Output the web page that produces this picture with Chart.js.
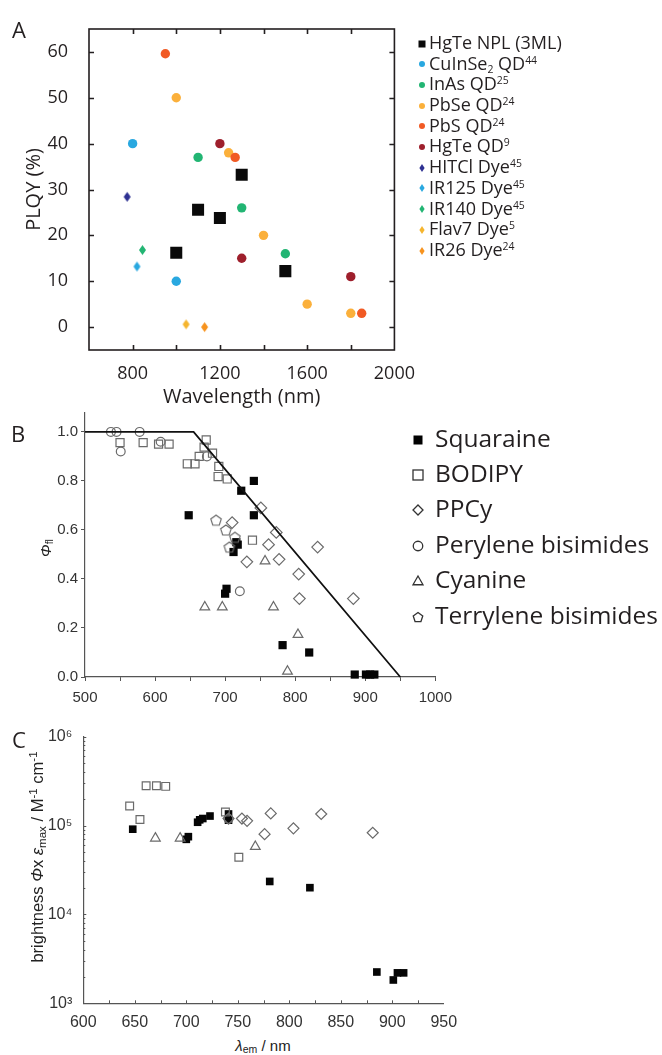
<!DOCTYPE html>
<html>
<head>
<meta charset="utf-8">
<script src="https://cdn.jsdelivr.net/npm/chart.js@4.4.0/dist/chart.umd.min.js"></script>
<style>
body { margin:0; background:#fff; width:662px; height:1055px; position:relative; overflow:hidden; font-family:'Open Sans', sans-serif; color:#231f20; }
canvas { position:absolute; left:0; }
.panel { position:absolute; font-size:22px; line-height:1; }
.row { position:absolute; white-space:nowrap; line-height:1; }
.row sup { font-size:0.58em; vertical-align:0.62em; line-height:0; }
.row sub { font-size:0.58em; vertical-align:-0.25em; line-height:0; }
.mk { position:absolute; }
.rot { position:absolute; white-space:nowrap; line-height:1; transform:translate(-50%,-50%) rotate(-90deg); font-family:'Liberation Sans', Arial, sans-serif; color:#222; }
.rot sub, .ax sub { font-size:0.7em; vertical-align:-0.25em; line-height:0; }
.rot sup { font-size:0.7em; vertical-align:0.5em; line-height:0; }
.ax { position:absolute; white-space:nowrap; line-height:1; transform:translate(-50%,-50%); font-family:'Liberation Sans', Arial, sans-serif; color:#222; }
</style>
</head>
<body>
<canvas id="cA" width="420" height="410" style="top:0"></canvas>
<canvas id="cB" width="460" height="310" style="top:400px"></canvas>
<canvas id="cC" width="460" height="310" style="top:720px"></canvas>

<div class="panel" style="left:12px;top:18px">A</div>
<div class="panel" style="left:11px;top:422px">B</div>
<div class="panel" style="left:12px;top:728px">C</div>

<div class="rot" style="left:45px;top:548px;font-size:15px"><i>Φ</i><sub>fl</sub></div>
<div class="rot" style="left:37px;top:857px;font-size:16.5px">brightness <i>Φ</i>x <i>ε</i><sub>max</sub> / M<sup>-1</sup> cm<sup>-1</sup></div>
<div class="ax" style="left:263px;top:1045px;font-size:15px"><i>λ</i><sub>em</sub> / nm</div>

<div id="legA"></div>
<div id="legB"></div>

<script>
// ---- panel A: PLQY vs wavelength ----
const aNplX = [1000, 1100, 1200, 1300, 1500];
const aNplY = [16.2, 25.6, 23.8, 33.2, 12.2];
const aCuInSeX = [800, 1000];
const aCuInSeY = [40, 10];
const aInAsX = [1100, 1300, 1500];
const aInAsY = [37, 26, 16];
const aPbSeX = [1000, 1240, 1400, 1600, 1800];
const aPbSeY = [50, 38, 20, 5, 3];
const aPbSX = [950, 1270, 1850];
const aPbSY = [59.6, 37, 3];
const aHgTeQdX = [1200, 1300, 1800];
const aHgTeQdY = [40, 15, 11];
const aHitciX = [775];
const aHitciY = [28.4];
const aIr125X = [820];
const aIr125Y = [13.2];
const aIr140X = [845];
const aIr140Y = [16.8];
const aFlav7X = [1045];
const aFlav7Y = [0.6];
const aIr26X = [1130];
const aIr26Y = [0];
const aXLabels = [800, 1200, 1600, 2000];
const aXMinor = [800, 1000, 1200, 1400, 1600, 1800];
const aYLabels = [0, 10, 20, 30, 40, 50, 60];

// ---- panel B: fluorescence quantum yield ----
const bSquaraineX = [648, 700, 702, 712, 716, 718, 723, 741, 741, 782, 820, 885, 901, 907, 913];
const bSquaraineY = [0.66, 0.34, 0.36, 0.51, 0.55, 0.54, 0.76, 0.80, 0.66, 0.13, 0.10, 0.01, 0.01, 0.01, 0.01];
const bBodipyX = [550, 583, 605, 620, 646, 657, 663, 670, 673, 682, 691, 690, 703, 739];
const bBodipyY = [0.956, 0.956, 0.95, 0.95, 0.87, 0.87, 0.90, 0.938, 0.967, 0.913, 0.859, 0.818, 0.808, 0.558];
const bPpcyX = [710, 731, 751, 762, 773, 777, 805, 806, 832, 883];
const bPpcyY = [0.63, 0.47, 0.69, 0.54, 0.59, 0.48, 0.42, 0.32, 0.53, 0.32];
const bPeryleneX = [537, 545, 578, 551, 608, 674, 721];
const bPeryleneY = [1.0, 1.0, 1.0, 0.92, 0.96, 0.90, 0.35];
const bCyanineX = [671, 696, 757, 769, 804, 789];
const bCyanineY = [0.285, 0.285, 0.473, 0.285, 0.173, 0.023];
const bTerryleneX = [687, 701, 706, 714];
const bTerryleneY = [0.64, 0.60, 0.53, 0.57];
const bLimitX = [500, 655, 950];
const bLimitY = [1, 1, 0];
const bXTicks = [500, 550, 600, 650, 700, 750, 800, 850, 900, 950, 1000];
const bYTicks = [0, 0.2, 0.4, 0.6, 0.8, 1.0];

// ---- panel C: brightness ----
const cSquaraineX = [648, 700, 702, 711, 713, 716, 723, 741, 741, 781, 820, 885, 901, 905, 911];
const cSquaraineY = [9.1e4, 7.0e4, 7.5e4, 1.09e5, 1.16e5, 1.2e5, 1.28e5, 1.35e5, 1.15e5, 2.35e4, 2.0e4, 2.25e3, 1.83e3, 2.2e3, 2.2e3];
const cBodipyX = [645, 655, 661, 671, 680, 738, 751];
const cBodipyY = [1.66e5, 1.17e5, 2.81e5, 2.81e5, 2.76e5, 1.42e5, 4.4e4];
const cPpcyX = [741, 754, 759, 776, 782, 804, 831, 881];
const cPpcyY = [1.2e5, 1.2e5, 1.13e5, 8.0e4, 1.37e5, 9.3e4, 1.35e5, 8.3e4];
const cPeryleneX = [741];
const cPeryleneY = [1.19e5];
const cCyanineX = [670, 694, 767];
const cCyanineY = [7.2e4, 7.2e4, 5.8e4];
const cXTicks = [600, 650, 700, 750, 800, 850, 900, 950];
const cXMinor = [625, 650, 675, 700, 725, 750, 775, 800, 825, 850, 875, 900, 925];
const cYTicks = [1e3, 1e4, 1e5, 1e6];
const cYMinor = [2e3, 3e3, 4e3, 5e3, 6e3, 7e3, 8e3, 9e3, 2e4, 3e4, 4e4, 5e4, 6e4, 7e4, 8e4, 9e4,
                 2e5, 3e5, 4e5, 5e5, 6e5, 7e5, 8e5, 9e5];
const supDigits = {3: '³', 4: '⁴', 5: '⁵', 6: '⁶'};

function pts(xs, ys) { return xs.map((x, i) => ({x: x, y: ys[i]})); }

function shapeImage(shape, w, h, fill, stroke, lw) {
  var c = document.createElement('canvas');
  c.width = Math.ceil(w + 2 * lw + 2); c.height = Math.ceil(h + 2 * lw + 2);
  var g = c.getContext('2d'), cx = c.width / 2, cy = c.height / 2;
  g.beginPath();
  if (shape === 'diamond') {
    g.moveTo(cx, cy - h / 2); g.lineTo(cx + w / 2, cy); g.lineTo(cx, cy + h / 2); g.lineTo(cx - w / 2, cy);
  } else {
    for (var k = 0; k < 5; k++) {
      var a = -Math.PI / 2 + k * 2 * Math.PI / 5;
      var px = cx + w / 2 * Math.cos(a), py = cy + h * 0.05 + h / 2 * Math.sin(a);
      if (k) g.lineTo(px, py); else g.moveTo(px, py);
    }
  }
  g.closePath();
  if (fill) { g.fillStyle = fill; g.fill(); }
  if (stroke) { g.strokeStyle = stroke; g.lineWidth = lw; g.stroke(); }
  return c;
}

function markerSvg(shape, size, fill, stroke) {
  var s = size / 2, body;
  var paint = fill ? 'fill="' + fill + '"' : 'fill="none" stroke="' + stroke + '" stroke-width="1.3"';
  if (shape === 'square') body = '<rect x="' + (-s) + '" y="' + (-s) + '" width="' + size + '" height="' + size + '" ' + paint + '/>';
  else if (shape === 'circle') body = '<circle r="' + s + '" ' + paint + '/>';
  else if (shape === 'diamond') body = '<polygon points="0,' + (-s) + ' ' + (s * 0.65) + ',0 0,' + s + ' ' + (-s * 0.65) + ',0" ' + paint + '/>';
  else if (shape === 'rhomb') body = '<polygon points="0,' + (-s) + ' ' + s + ',0 0,' + s + ' ' + (-s) + ',0" ' + paint + '/>';
  else if (shape === 'triangle') body = '<polygon points="0,' + (-s) + ' ' + s + ',' + (s * 0.75) + ' ' + (-s) + ',' + (s * 0.75) + '" ' + paint + '/>';
  else {
    var p = [];
    for (var k = 0; k < 5; k++) { var a = -Math.PI / 2 + k * 2 * Math.PI / 5; p.push((s * Math.cos(a)).toFixed(2) + ',' + (s * 0.1 + s * Math.sin(a)).toFixed(2)); }
    body = '<polygon points="' + p.join(' ') + '" ' + paint + '/>';
  }
  return '<svg width="16" height="16" viewBox="-8 -8 16 16">' + body + '</svg>';
}

// inward ticks and frame, positioned through the chart scales
const innerTicks = {
  id: 'innerTicks',
  afterDatasetsDraw: function(chart, args, o) {
    if (!o || !o.on) return;
    var ctx = chart.ctx, a = chart.chartArea, sx = chart.scales.x, sy = chart.scales.y;
    ctx.save();
    ctx.strokeStyle = o.color; ctx.lineWidth = o.width;
    if (o.box) ctx.strokeRect(a.left, a.top, a.right - a.left, a.bottom - a.top);
    ctx.beginPath();
    function xt(v, len) {
      var px = Math.round(sx.getPixelForValue(v)) + 0.5;
      ctx.moveTo(px, a.bottom); ctx.lineTo(px, a.bottom - len);
      if (o.box) { ctx.moveTo(px, a.top); ctx.lineTo(px, a.top + len); }
    }
    function yt(v, len) {
      var py = Math.round(sy.getPixelForValue(v)) + 0.5;
      ctx.moveTo(a.left, py); ctx.lineTo(a.left + len, py);
      if (o.box) { ctx.moveTo(a.right, py); ctx.lineTo(a.right - len, py); }
    }
    o.xValues.forEach(function(v) { xt(v, o.len); });
    o.yValues.forEach(function(v) { yt(v, o.len); });
    (o.yMinor || []).forEach(function(v) { yt(v, o.minorLen); });
    ctx.stroke();
    ctx.restore();
  }
};

const narrowDia = function(col) { return shapeImage('diamond', 7, 10, col, null, 0); };

const seriesA = [
  {name: 'HgTe NPL (3ML)', x: aNplX, y: aNplY, color: '#0a0a0a', style: 'rect', r: 8.5, leg: 'square', ls: 7},
  {name: 'CuInSe<sub>2</sub> QD<sup>44</sup>', x: aCuInSeX, y: aCuInSeY, color: '#29a8e0', style: 'circle', r: 4.7, leg: 'circle', ls: 6},
  {name: 'InAs QD<sup>25</sup>', x: aInAsX, y: aInAsY, color: '#22b573', style: 'circle', r: 4.7, leg: 'circle', ls: 6},
  {name: 'PbSe QD<sup>24</sup>', x: aPbSeX, y: aPbSeY, color: '#fbb03b', style: 'circle', r: 4.7, leg: 'circle', ls: 6},
  {name: 'PbS QD<sup>24</sup>', x: aPbSX, y: aPbSY, color: '#f15a24', style: 'circle', r: 4.7, leg: 'circle', ls: 6},
  {name: 'HgTe QD<sup>9</sup>', x: aHgTeQdX, y: aHgTeQdY, color: '#9e1f2c', style: 'circle', r: 4.7, leg: 'circle', ls: 6},
  {name: 'HITCl Dye<sup>45</sup>', x: aHitciX, y: aHitciY, color: '#2e3192', style: 'dia', leg: 'diamond', ls: 8},
  {name: 'IR125 Dye<sup>45</sup>', x: aIr125X, y: aIr125Y, color: '#29a8e0', style: 'dia', leg: 'diamond', ls: 8},
  {name: 'IR140 Dye<sup>45</sup>', x: aIr140X, y: aIr140Y, color: '#22b573', style: 'dia', leg: 'diamond', ls: 8},
  {name: 'Flav7 Dye<sup>5</sup>', x: aFlav7X, y: aFlav7Y, color: '#f5b52e', style: 'dia', leg: 'diamond', ls: 8},
  {name: 'IR26 Dye<sup>24</sup>', x: aIr26X, y: aIr26Y, color: '#f7931e', style: 'dia', leg: 'diamond', ls: 8}
];

const greyEdge = '#6a6a6a';
const pentB = shapeImage('pentagon', 11, 11, null, greyEdge, 1.2);

const seriesB = [
  {name: 'Squaraine', leg: 'square', fill: '#000', ls: 9},
  {name: 'BODIPY', leg: 'square', ls: 10},
  {name: 'PPCy', leg: 'rhomb', ls: 10},
  {name: 'Perylene bisimides', leg: 'circle', ls: 9.5},
  {name: 'Cyanine', leg: 'triangle', ls: 10},
  {name: 'Terrylene bisimides', leg: 'pentagon', ls: 10}
];

function openSet(data, style, r) {
  return {data: data, pointStyle: style, pointRadius: r, backgroundColor: 'rgba(0,0,0,0)', borderColor: greyEdge, borderWidth: 1.2, showLine: false};
}
function filledSet(data, r) {
  return {data: data, pointStyle: 'rect', pointRadius: r, backgroundColor: '#050505', borderColor: '#050505', borderWidth: 0, showLine: false};
}

const base = {responsive: false, animation: false, devicePixelRatio: 1, events: []};

// ---- chart A ----
new Chart(document.getElementById('cA'), {
  type: 'scatter',
  data: {
    datasets: seriesA.slice().reverse().map(function(s) {
      return {
        label: s.name, data: pts(s.x, s.y),
        pointStyle: s.style === 'dia' ? narrowDia(s.color) : s.style,
        pointRadius: s.r || 5, backgroundColor: s.color, borderColor: s.color, borderWidth: 0
      };
    })
  },
  options: Object.assign({}, base, {
    layout: {padding: {left: 0, top: 29, right: 9, bottom: 0}},
    plugins: {
      legend: {display: false}, tooltip: {enabled: false},
      innerTicks: {on: true, box: true, color: '#231f20', width: 1.6, len: 5, xValues: aXMinor, yValues: aYLabels}
    },
    scales: {
      x: {
        type: 'linear', min: 600, max: 2000,
        afterBuildTicks: function(s) { s.ticks = aXLabels.map(function(v) { return {value: v}; }); },
        afterFit: function(s) { s.height = 60; },
        grid: {display: false}, border: {display: false},
        ticks: {font: {family: 'Open Sans', size: 18}, color: '#231f20', padding: 5, maxRotation: 0, callback: function(v) { return String(v); }},
        title: {display: true, text: 'Wavelength (nm)', font: {family: 'Open Sans', size: 20}, color: '#231f20', padding: {top: 0, bottom: 1}}
      },
      y: {
        type: 'linear', min: -5, max: 65,
        afterBuildTicks: function(s) { s.ticks = aYLabels.map(function(v) { return {value: v}; }); },
        afterFit: function(s) { s.width = 89; },
        grid: {display: false}, border: {display: false},
        ticks: {font: {family: 'Open Sans', size: 18}, color: '#231f20', padding: 13, callback: function(v) { return String(v); }},
        title: {display: true, text: 'PLQY (%)', font: {family: 'Open Sans', size: 20}, color: '#231f20', padding: {top: 22, bottom: 22}}
      }
    }
  }),
  plugins: [innerTicks]
});

// ---- chart B ----
new Chart(document.getElementById('cB'), {
  type: 'scatter',
  data: {
    datasets: [
      {type: 'line', data: pts(bLimitX, bLimitY), borderColor: '#111', borderWidth: 1.8, pointRadius: 0, fill: false, tension: 0},
      openSet(pts(bBodipyX, bBodipyY), 'rect', 5.7),
      openSet(pts(bPeryleneX, bPeryleneY), 'circle', 4.4),
      openSet(pts(bPpcyX, bPpcyY), 'rectRot', 5.8),
      openSet(pts(bCyanineX, bCyanineY), 'triangle', 5.6),
      openSet(pts(bTerryleneX, bTerryleneY), pentB, 5),
      filledSet(pts(bSquaraineX, bSquaraineY), 5.8)
    ]
  },
  options: Object.assign({}, base, {
    clip: false,
    layout: {padding: {left: 0, top: 12.3, right: 9, bottom: 0}},
    plugins: {legend: {display: false}, tooltip: {enabled: false}},
    scales: {
      x: {
        type: 'linear', min: 500, max: 1000,
        afterBuildTicks: function(s) { s.ticks = bXTicks.map(function(v) { return {value: v}; }); },
        afterFit: function(s) { s.height = 33; },
        grid: {display: true, drawOnChartArea: false, drawTicks: true, tickLength: 4, color: '#555', lineWidth: 1},
        border: {display: true, color: '#555', width: 1.2},
        ticks: {font: {family: 'Liberation Sans', size: 15}, color: '#333', padding: 8, maxRotation: 0, autoSkip: false,
          callback: function(v) { return v % 100 === 0 ? String(v) : ''; }}
      },
      y: {
        type: 'linear', min: 0, max: 1.08,
        afterBuildTicks: function(s) { s.ticks = bYTicks.map(function(v) { return {value: v}; }); },
        afterFit: function(s) { s.width = 85; },
        grid: {display: true, drawOnChartArea: false, drawTicks: true, tickLength: 4, color: '#555', lineWidth: 1},
        border: {display: true, color: '#555', width: 1.2},
        ticks: {font: {family: 'Liberation Sans', size: 15}, color: '#333', padding: 3,
          callback: function(v) { return v.toFixed(1); }}
      }
    }
  })
});

// ---- chart C ----
new Chart(document.getElementById('cC'), {
  type: 'scatter',
  data: {
    datasets: [
      openSet(pts(cBodipyX, cBodipyY), 'rect', 5.5),
      openSet(pts(cPeryleneX, cPeryleneY), 'circle', 4.4),
      openSet(pts(cPpcyX, cPpcyY), 'rectRot', 5.5),
      openSet(pts(cCyanineX, cCyanineY), 'triangle', 5.6),
      filledSet(pts(cSquaraineX, cSquaraineY), 5.4)
    ]
  },
  options: Object.assign({}, base, {
    clip: false,
    layout: {padding: {left: 0, top: 16.7, right: 16.2, bottom: 0}},
    plugins: {
      legend: {display: false}, tooltip: {enabled: false},
      innerTicks: {on: true, box: false, color: '#555', width: 1, len: 3, minorLen: 2, xValues: cXMinor, yValues: cYTicks, yMinor: cYMinor}
    },
    scales: {
      x: {
        type: 'linear', min: 600, max: 950,
        afterBuildTicks: function(s) { s.ticks = cXTicks.map(function(v) { return {value: v}; }); },
        afterFit: function(s) { s.height = 26.7; },
        grid: {display: false},
        border: {display: true, color: '#555', width: 1.2},
        ticks: {font: {family: 'Liberation Sans', size: 16}, color: '#333', padding: 2, maxRotation: 0, autoSkip: false,
          callback: function(v) { return String(v); }}
      },
      y: {
        type: 'logarithmic', min: 1e3, max: 1e6,
        afterBuildTicks: function(s) { s.ticks = cYTicks.map(function(v) { return {value: v}; }); },
        afterFit: function(s) { s.width = 83.3; },
        grid: {display: false},
        border: {display: true, color: '#555', width: 1.2},
        ticks: {font: {family: 'Liberation Sans', size: 16}, color: '#333', padding: 3,
          callback: function(v) { return '10' + supDigits[Math.round(Math.log10(v))]; }}
      }
    }
  }),
  plugins: [innerTicks]
});

// ---- HTML legends ----
function buildLegend(el, list, opt) {
  var html = '';
  list.forEach(function(s, i) {
    var cy = opt.y0 + i * opt.dy;
    html += '<div class="mk" style="left:' + (opt.mx - 8) + 'px;top:' + (cy - 8) + 'px">' +
      markerSvg(s.leg, s.ls, opt.filled ? s.color : s.fill, opt.stroke) + '</div>';
    html += '<div class="row" style="left:' + opt.tx + 'px;top:' + (cy - 0.531 * opt.size).toFixed(1) + 'px;font-size:' + opt.size + 'px">' + s.name + '</div>';
  });
  el.innerHTML = html;
}
buildLegend(document.getElementById('legA'), seriesA, {mx: 422, tx: 429, y0: 42.5, dy: 20.7, size: 18, filled: true});
buildLegend(document.getElementById('legB'), seriesB, {mx: 418, tx: 435, y0: 438.5, dy: 35.4, size: 24.5, filled: false, stroke: '#333'});
</script>
</body>
</html>
